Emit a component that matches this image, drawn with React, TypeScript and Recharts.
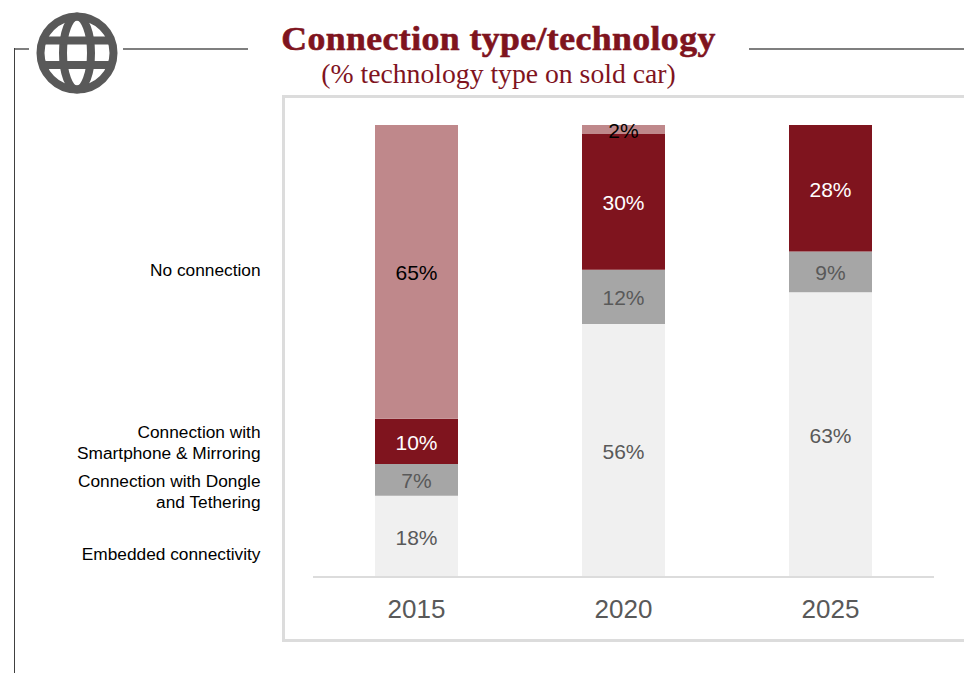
import { BarChart, Bar, XAxis, YAxis, LabelList } from "recharts";

const years = ["2015", "2020", "2025"];
const embedded = [18, 56, 63];
const dongle = [7, 12, 9];
const smartphone = [10, 30, 28];
const noConnection = [65, 2, null];

const rows = years.map((year, i) => ({
  year,
  embedded: embedded[i],
  dongle: dongle[i],
  smartphone: smartphone[i],
  noConnection: noConnection[i],
}));

const sideLabels = [
  { lines: ["No connection"], top: 260 },
  { lines: ["Connection with", "Smartphone & Mirroring"], top: 422 },
  { lines: ["Connection with Dongle", "and Tethering"], top: 471 },
  { lines: ["Embedded connectivity"], top: 544 },
];

const sansFont = '"Liberation Sans", Arial, sans-serif';
const serifFont = '"Liberation Serif", "Times New Roman", serif';
const ruleColor = "#7f7f7f";
const maroon = "#7f141e";

const percent = (v: unknown) => (v == null ? "" : `${v}%`);

function Rule({ x, y, w, h, color = ruleColor }: { x: number; y: number; w: number; h: number; color?: string }) {
  return <div style={{ position: "absolute", left: x, top: y, width: w, height: h, background: color }} />;
}

function Globe() {
  return (
    <svg width={84} height={84} style={{ position: "absolute", left: 35, top: 11 }} viewBox="0 0 84 84">
      <g fill="none" stroke="#595959" strokeWidth={8}>
        <circle cx={42} cy={42} r={36.5} />
        <ellipse cx={42} cy={42} rx={14} ry={36.5} />
        <line x1={8} y1={29.5} x2={76} y2={29.5} />
        <line x1={8} y1={54} x2={76} y2={54} />
      </g>
    </svg>
  );
}

function StackSeries({ dataKey, fill, labelFill }: { dataKey: string; fill: string; labelFill: string }) {
  return (
    <Bar dataKey={dataKey} stackId="share" fill={fill} isAnimationActive={false}>
      <LabelList
        dataKey={dataKey}
        position="center"
        formatter={percent}
        fill={labelFill}
        dy={1}
        style={{ fontSize: 21, fontFamily: sansFont }}
      />
    </Bar>
  );
}

export default function App() {
  return (
    <div style={{ position: "absolute", left: 0, top: 0, width: 964, height: 673, overflow: "hidden", background: "#fff" }}>
      <Rule x={14} y={48} w={15} h={1.5} />
      <Rule x={14} y={48} w={1} h={625} color="#404040" />
      <Rule x={123} y={48} w={125} h={1.5} />
      <Rule x={749} y={48} w={215} h={1.5} />
      <Globe />

      <div
        style={{
          position: "absolute",
          left: 220,
          width: 557,
          top: 20,
          textAlign: "center",
          color: maroon,
          fontFamily: serifFont,
          fontWeight: 700,
          fontSize: 34,
          letterSpacing: 0.4,
          WebkitTextStroke: "0.6px #7f141e",
          lineHeight: "38px",
          whiteSpace: "nowrap",
          transform: "scaleX(1.05)",
        }}
      >
        Connection type/technology
      </div>
      <div
        style={{
          position: "absolute",
          left: 220,
          width: 557,
          top: 59,
          textAlign: "center",
          color: maroon,
          fontFamily: serifFont,
          fontSize: 27.7,
          lineHeight: "30px",
          whiteSpace: "nowrap",
        }}
      >
        (% technology type on sold car)
      </div>

      <div
        style={{
          position: "absolute",
          left: 282,
          top: 95,
          width: 700,
          height: 547,
          boxSizing: "border-box",
          border: "3px solid #dcdcdc",
        }}
      />

      {sideLabels.map((label) => (
        <div
          key={label.lines[0]}
          style={{
            position: "absolute",
            left: 20,
            width: 240.5,
            top: label.top,
            textAlign: "right",
            fontFamily: sansFont,
            fontSize: 17.3,
            lineHeight: "21px",
            color: "#000",
          }}
        >
          {label.lines.map((line) => (
            <div key={line}>{line}</div>
          ))}
        </div>
      ))}

      <div style={{ position: "absolute", left: 0, top: 0 }}>
        <BarChart
          width={964}
          height={673}
          data={rows}
          barCategoryGap={62}
          margin={{ top: 125, right: 30, bottom: 0, left: 313 }}
        >
          <XAxis
            dataKey="year"
            height={96}
            axisLine={{ stroke: "#dcdcdc", strokeWidth: 2 }}
            tickLine={false}
            tickMargin={17}
            tick={{ fontSize: 26, fontFamily: sansFont, fill: "#595959" }}
          />
          <YAxis hide domain={[0, 100]} />
          {StackSeries({ dataKey: "embedded", fill: "#f0f0f0", labelFill: "#595959" })}
          {StackSeries({ dataKey: "dongle", fill: "#a6a6a6", labelFill: "#595959" })}
          {StackSeries({ dataKey: "smartphone", fill: maroon, labelFill: "#ffffff" })}
          {StackSeries({ dataKey: "noConnection", fill: "#bf888b", labelFill: "#000000" })}
        </BarChart>
      </div>
    </div>
  );
}
